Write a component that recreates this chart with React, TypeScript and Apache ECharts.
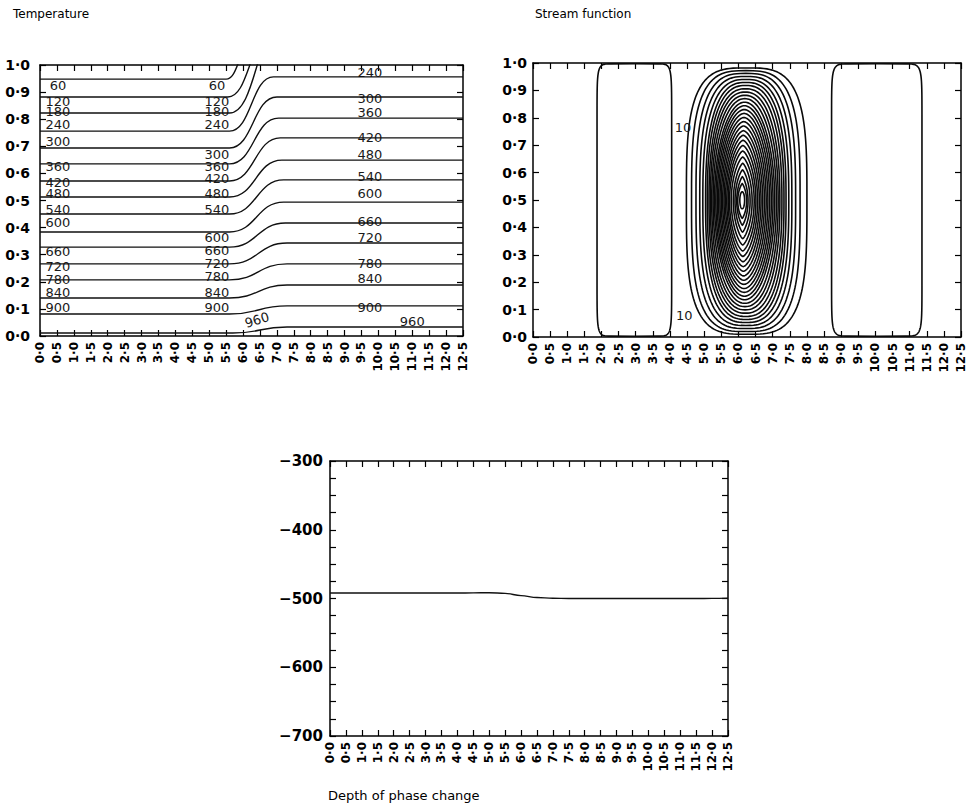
import React, { useEffect, useRef } from "react";
import * as echarts from "echarts";

const FONT = "DejaVu Sans";

// ---------- Temperature panel ----------
const tempLevels = [60, 120, 180, 240, 300, 360, 420, 480, 540, 600, 660, 720, 780, 840, 900, 960];
// contour height on the left part (x < 5.5) and on the right part (x > 7.3)
const tempLeftY = [0.948, 0.882, 0.823, 0.756, 0.694, 0.635, 0.572, 0.513, 0.45, 0.384, 0.328, 0.266, 0.207, 0.14, 0.081, 0.011];
const tempRightY = [1.06, 1.1, 1.16, 0.956, 0.882, 0.804, 0.731, 0.649, 0.576, 0.494, 0.417, 0.343, 0.266, 0.188, 0.111, 0.033];
const tempRiseStartX = [5.5, 5.55, 5.6, 5.6, 5.6, 5.6, 5.6, 5.6, 5.6, 5.6, 5.6, 5.6, 5.6, 5.6, 5.6, 5.7];
const tempRiseEndX = [6.2, 6.8, 7.2, 6.9, 7.0, 7.05, 7.1, 7.15, 7.2, 7.2, 7.25, 7.3, 7.3, 7.3, 7.3, 7.3];

const tempLabelLevels = [60, 120, 180, 240, 300, 360, 420, 480, 540, 600, 660, 720, 780, 840, 900];
const tempLabelLeftY = [0.926, 0.867, 0.827, 0.782, 0.716, 0.624, 0.568, 0.524, 0.465, 0.417, 0.31, 0.258, 0.21, 0.162, 0.107];
const tempLabelMidY = [0.926, 0.867, 0.827, 0.782, 0.668, 0.624, 0.583, 0.524, 0.465, 0.362, 0.314, 0.266, 0.218, 0.162, 0.107];
const tempLabelRightLevels = [240, 300, 360, 420, 480, 540, 600, 660, 720, 780, 840, 900];
const tempLabelRightY = [0.974, 0.878, 0.823, 0.731, 0.668, 0.587, 0.524, 0.421, 0.365, 0.266, 0.214, 0.107];
const tempLabelColumnsX = [0.53, 5.23, 9.75];
// extra labels: [x, y, text, rotation deg]
const tempExtraLabels = [
  [6.41, 0.059, 960, 17],
  [11.0, 0.052, 960, 0],
];

// ---------- Stream function panel ----------
// each closed contour: left x, right x, top y, bottom y, shape exponent
const ringLeft = [1.87, 8.72, 4.48, 4.63, 4.76, 4.87, 4.96, 5.04, 5.09, 5.14, 5.18, 5.22, 5.26, 5.3, 5.34, 5.38, 5.42, 5.46, 5.5, 5.54, 5.58, 5.62, 5.66, 5.7, 5.74, 5.79, 5.85, 5.9, 5.95, 5.98, 6.04];
const ringRight = [4.05, 11.36, 8.0, 7.8, 7.67, 7.56, 7.47, 7.39, 7.33, 7.27, 7.21, 7.16, 7.11, 7.06, 7.01, 6.96, 6.91, 6.86, 6.81, 6.76, 6.71, 6.66, 6.61, 6.56, 6.51, 6.46, 6.4, 6.34, 6.28, 6.24, 6.18];
const ringTop = [0.997, 0.997, 0.982, 0.972, 0.962, 0.951, 0.94, 0.929, 0.918, 0.906, 0.894, 0.882, 0.87, 0.857, 0.844, 0.83, 0.816, 0.801, 0.786, 0.77, 0.753, 0.736, 0.718, 0.699, 0.679, 0.657, 0.634, 0.61, 0.585, 0.56, 0.53];
const ringBottom = [0.003, 0.003, 0.01, 0.02, 0.031, 0.042, 0.053, 0.064, 0.075, 0.087, 0.099, 0.111, 0.123, 0.136, 0.149, 0.163, 0.177, 0.192, 0.207, 0.223, 0.24, 0.257, 0.275, 0.294, 0.314, 0.336, 0.359, 0.383, 0.408, 0.433, 0.468];
const ringShape = [14, 14, 3.4, 3.2, 3.0, 2.85, 2.7, 2.6, 2.5, 2.4, 2.3, 2.2, 2.1, 2.0, 1.95, 1.9, 1.85, 1.8, 1.75, 1.7, 1.65, 1.6, 1.55, 1.5, 1.45, 1.4, 1.35, 1.3, 1.25, 1.2, 2.0];
const streamLabels = [
  [4.38, 0.766, 10, 0],
  [4.42, 0.077, 10, 0],
];

// ---------- Depth of phase change ----------
const depthX = [0, 0.5, 1, 1.5, 2, 2.5, 3, 3.5, 4, 4.5, 5, 5.5, 6, 6.5, 7, 7.5, 8, 8.5, 9, 9.5, 10, 10.5, 11, 11.5, 12, 12.5];
const depthY = [-492, -492, -492, -492, -492, -492, -492, -492, -492, -491.8, -491.6, -492.6, -495.8, -498.6, -499.6, -500, -500, -500, -500, -500, -500, -500, -500, -500, -499.8, -499.5];

const fmtDot = (v: number) => (Math.round(v * 10) / 10).toFixed(1).replace(".", "\u00b7");
const fmtDepth = (v: number) => (Math.round(v) % 100 === 0 ? "\u2212" + Math.abs(Math.round(v)) : "");

const axisLine = { show: true, onZero: false, lineStyle: { color: "#000", width: 1.5 } };
const axisTick = { show: true, inside: true, length: 6, lineStyle: { color: "#000", width: 1.2 } };

function xPair(gridIndex: number) {
  return [
    {
      type: "value", gridIndex, min: 0, max: 12.5, interval: 0.5, position: "bottom",
      axisLine, axisTick, splitLine: { show: false },
      axisLabel: { show: true, rotate: 90, margin: 6, formatter: fmtDot, fontFamily: FONT, fontSize: 12, fontWeight: "bold", color: "#000" },
    },
    {
      type: "value", gridIndex, min: 0, max: 12.5, interval: 0.5, position: "top",
      axisLine, axisTick, splitLine: { show: false }, axisLabel: { show: false },
    },
  ];
}

function yPair(gridIndex: number, min: number, max: number, interval: number, fmt: (v: number) => string, margin: number, fontSize: number) {
  return [
    {
      type: "value", gridIndex, min, max, interval, position: "left",
      axisLine, axisTick, splitLine: { show: false },
      axisLabel: { show: true, margin, formatter: fmt, fontFamily: FONT, fontSize, fontWeight: "bold", color: "#000" },
    },
    {
      type: "value", gridIndex, min, max, interval, position: "right",
      axisLine, axisTick, splitLine: { show: false }, axisLabel: { show: false },
    },
  ];
}

function textSeries(xi: number, data: number[][], fontSize: number) {
  return {
    type: "custom", xAxisIndex: xi, yAxisIndex: xi, coordinateSystem: "cartesian2d", silent: true,
    data,
    renderItem: (params: any, api: any) => {
      const p = api.coord([api.value(0), api.value(1)]);
      return {
        type: "text", x: p[0], y: p[1], rotation: (api.value(3) * Math.PI) / 180,
        style: { text: String(api.value(2)), fontFamily: FONT, fontSize, fill: "#1a1a1a", align: "center", verticalAlign: "middle" },
      };
    },
  };
}

export default function App() {
  const ref = useRef<HTMLDivElement>(null);
  useEffect(() => {
    if (!ref.current) return;
    const chart = echarts.init(ref.current, undefined, { renderer: "svg" });

    const tempSeries = tempLevels.map((lv, i) => ({
      type: "line", name: String(lv), xAxisIndex: 0, yAxisIndex: 0, symbol: "none", silent: true,
      smooth: 0.5, smoothMonotone: "x", clip: true,
      lineStyle: { color: "#111", width: 1.4 },
      data: [
        [0, tempLeftY[i]],
        [tempRiseStartX[i], tempLeftY[i]],
        [tempRiseEndX[i], tempRightY[i]],
        [12.5, tempRightY[i]],
      ],
    }));

    const tempLabelData: number[][] = [];
    tempLabelLevels.forEach((lv, i) => {
      tempLabelData.push([tempLabelColumnsX[0], tempLabelLeftY[i], lv, 0]);
      tempLabelData.push([tempLabelColumnsX[1], tempLabelMidY[i], lv, 0]);
    });
    tempLabelRightLevels.forEach((lv, i) => {
      tempLabelData.push([tempLabelColumnsX[2], tempLabelRightY[i], lv, 0]);
    });
    tempExtraLabels.forEach((l) => tempLabelData.push(l));

    const ringData = ringLeft.map((l, i) => [l, ringRight[i], ringTop[i], ringBottom[i], ringShape[i]]);

    const option: any = {
      animation: false,
      backgroundColor: "#fff",
      title: [
        { text: "Temperature", left: 13, top: 8, padding: 0, textStyle: { fontFamily: FONT, fontSize: 12, fontWeight: "normal", color: "#000" } },
        { text: "Stream function", left: 535, top: 8, padding: 0, textStyle: { fontFamily: FONT, fontSize: 12, fontWeight: "normal", color: "#000" } },
        { text: "Depth of phase change", left: 328, top: 789, padding: 0, textStyle: { fontFamily: FONT, fontSize: 13, fontWeight: "normal", color: "#000" } },
      ],
      grid: [
        { left: 40, top: 65, width: 423, height: 271, containLabel: false },
        { left: 533, top: 63, width: 428, height: 274, containLabel: false },
        { left: 330, top: 461, width: 398, height: 275, containLabel: false },
      ],
      xAxis: [...xPair(0), ...xPair(1), ...xPair(2)],
      yAxis: [
        ...yPair(0, 0, 1, 0.1, fmtDot, 10, 14),
        ...yPair(1, 0, 1, 0.1, fmtDot, 6, 14),
        ...yPair(2, -700, -300, 25, fmtDepth, 7, 15),
      ],
      series: [
        ...tempSeries,
        textSeries(0, tempLabelData, 13),
        {
          type: "custom", xAxisIndex: 2, yAxisIndex: 2, coordinateSystem: "cartesian2d", silent: true, clip: true,
          data: ringData,
          renderItem: (params: any, api: any) => {
            const xl = api.value(0), xr = api.value(1), yt = api.value(2), yb = api.value(3), n = api.value(4);
            const cx = (xl + xr) / 2, ax = (xr - xl) / 2, cy = (yt + yb) / 2, ay = (yt - yb) / 2;
            const ex = 2 / n, ey = 2 / Math.max(2, n);
            const pts: number[][] = [];
            const N = 160;
            for (let k = 0; k < N; k++) {
              const t = (k / N) * Math.PI * 2;
              const c = Math.cos(t), s = Math.sin(t);
              const ux = Math.sign(c) * Math.pow(Math.abs(c), ex);
              const uy = Math.sign(s) * Math.pow(Math.abs(s), ey);
              pts.push(api.coord([cx + ax * ux, cy + ay * uy]));
            }
            return { type: "polygon", shape: { points: pts }, style: { fill: "none", stroke: "#0a0a0a", lineWidth: 1.6 } };
          },
        },
        textSeries(2, streamLabels, 13),
        {
          type: "line", xAxisIndex: 4, yAxisIndex: 4, symbol: "none", silent: true, smooth: 0.4, smoothMonotone: "x",
          lineStyle: { color: "#111", width: 1.4 },
          data: depthX.map((x, i) => [x, depthY[i]]),
        },
      ],
    };
    chart.setOption(option);
    return () => chart.dispose();
  }, []);
  return <div ref={ref} style={{ position: "absolute", left: 0, top: 0, width: 973, height: 809, background: "#fff" }} />;
}
